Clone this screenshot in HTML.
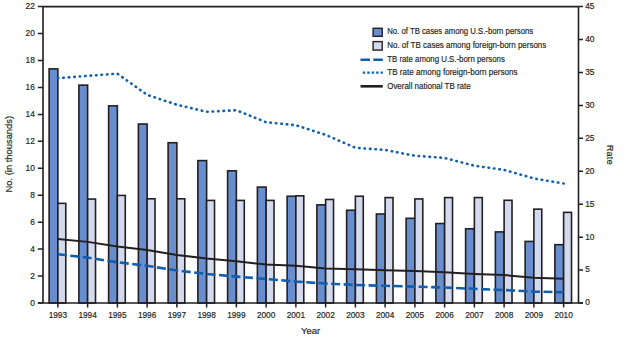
<!DOCTYPE html>
<html><head><meta charset="utf-8"><style>
html,body{margin:0;padding:0;background:#fff;}
body{width:626px;height:344px;overflow:hidden;}
svg{display:block;}
.t{font-family:"Liberation Sans",sans-serif;font-size:8.3px;fill:#231f20;stroke:#231f20;stroke-width:0.18px;}
</style></head><body>
<svg width="626" height="344" viewBox="0 0 626 344">
<rect x="49.12" y="68.87" width="8.75" height="234.13" fill="#688ed0" stroke="#231f20" stroke-width="1.6"/>
<rect x="57.88" y="203.37" width="7.90" height="99.63" fill="#d3daee" stroke="#231f20" stroke-width="1.6"/>
<rect x="78.88" y="85.15" width="8.75" height="217.85" fill="#688ed0" stroke="#231f20" stroke-width="1.6"/>
<rect x="87.62" y="199.07" width="7.90" height="103.93" fill="#d3daee" stroke="#231f20" stroke-width="1.6"/>
<rect x="108.62" y="105.86" width="8.75" height="197.14" fill="#688ed0" stroke="#231f20" stroke-width="1.6"/>
<rect x="117.38" y="195.44" width="7.90" height="107.56" fill="#d3daee" stroke="#231f20" stroke-width="1.6"/>
<rect x="138.38" y="124.02" width="8.75" height="178.98" fill="#688ed0" stroke="#231f20" stroke-width="1.6"/>
<rect x="147.12" y="198.80" width="7.90" height="104.20" fill="#d3daee" stroke="#231f20" stroke-width="1.6"/>
<rect x="168.12" y="142.71" width="8.75" height="160.29" fill="#688ed0" stroke="#231f20" stroke-width="1.6"/>
<rect x="176.88" y="198.80" width="7.90" height="104.20" fill="#d3daee" stroke="#231f20" stroke-width="1.6"/>
<rect x="197.88" y="160.60" width="8.75" height="142.40" fill="#688ed0" stroke="#231f20" stroke-width="1.6"/>
<rect x="206.62" y="200.41" width="7.90" height="102.59" fill="#d3daee" stroke="#231f20" stroke-width="1.6"/>
<rect x="227.62" y="170.82" width="8.75" height="132.18" fill="#688ed0" stroke="#231f20" stroke-width="1.6"/>
<rect x="236.38" y="200.41" width="7.90" height="102.59" fill="#d3daee" stroke="#231f20" stroke-width="1.6"/>
<rect x="257.38" y="187.10" width="8.75" height="115.90" fill="#688ed0" stroke="#231f20" stroke-width="1.6"/>
<rect x="266.12" y="200.41" width="7.90" height="102.59" fill="#d3daee" stroke="#231f20" stroke-width="1.6"/>
<rect x="287.12" y="196.25" width="8.75" height="106.75" fill="#688ed0" stroke="#231f20" stroke-width="1.6"/>
<rect x="295.88" y="195.84" width="7.90" height="107.16" fill="#d3daee" stroke="#231f20" stroke-width="1.6"/>
<rect x="316.88" y="204.85" width="8.75" height="98.15" fill="#688ed0" stroke="#231f20" stroke-width="1.6"/>
<rect x="325.62" y="199.47" width="7.90" height="103.53" fill="#d3daee" stroke="#231f20" stroke-width="1.6"/>
<rect x="346.62" y="210.23" width="8.75" height="92.77" fill="#688ed0" stroke="#231f20" stroke-width="1.6"/>
<rect x="355.38" y="196.25" width="7.90" height="106.75" fill="#d3daee" stroke="#231f20" stroke-width="1.6"/>
<rect x="376.38" y="214.00" width="8.75" height="89.00" fill="#688ed0" stroke="#231f20" stroke-width="1.6"/>
<rect x="385.12" y="197.59" width="7.90" height="105.41" fill="#d3daee" stroke="#231f20" stroke-width="1.6"/>
<rect x="406.12" y="218.30" width="8.75" height="84.70" fill="#688ed0" stroke="#231f20" stroke-width="1.6"/>
<rect x="414.88" y="198.94" width="7.90" height="104.06" fill="#d3daee" stroke="#231f20" stroke-width="1.6"/>
<rect x="435.88" y="223.55" width="8.75" height="79.45" fill="#688ed0" stroke="#231f20" stroke-width="1.6"/>
<rect x="444.62" y="197.59" width="7.90" height="105.41" fill="#d3daee" stroke="#231f20" stroke-width="1.6"/>
<rect x="465.62" y="228.79" width="8.75" height="74.21" fill="#688ed0" stroke="#231f20" stroke-width="1.6"/>
<rect x="474.38" y="197.59" width="7.90" height="105.41" fill="#d3daee" stroke="#231f20" stroke-width="1.6"/>
<rect x="495.38" y="231.89" width="8.75" height="71.11" fill="#688ed0" stroke="#231f20" stroke-width="1.6"/>
<rect x="504.12" y="200.28" width="7.90" height="102.72" fill="#d3daee" stroke="#231f20" stroke-width="1.6"/>
<rect x="525.12" y="241.44" width="8.75" height="61.56" fill="#688ed0" stroke="#231f20" stroke-width="1.6"/>
<rect x="533.88" y="209.16" width="7.90" height="93.84" fill="#d3daee" stroke="#231f20" stroke-width="1.6"/>
<rect x="554.88" y="244.67" width="8.75" height="58.33" fill="#688ed0" stroke="#231f20" stroke-width="1.6"/>
<rect x="563.62" y="212.38" width="7.90" height="90.62" fill="#d3daee" stroke="#231f20" stroke-width="1.6"/>
<polyline points="57.88,238.98 87.62,241.87 117.38,246.61 147.12,250.09 176.88,254.89 206.62,258.58 236.38,261.27 266.12,264.49 295.88,265.68 325.62,268.57 355.38,269.16 385.12,270.28 414.88,271.00 444.62,272.19 474.38,273.96 504.12,275.08 533.88,277.71 563.62,278.63" fill="none" stroke="#231f20" stroke-width="2.0"/>
<polyline points="57.88,254.30 87.62,257.59 117.38,262.26 147.12,265.81 176.88,270.48 206.62,273.96 236.38,276.59 266.12,278.96 295.88,281.59 325.62,283.50 355.38,285.01 385.12,285.80 414.88,286.59 444.62,287.57 474.38,288.82 504.12,290.01 533.88,291.58 563.62,292.31" fill="none" stroke="#0f5fae" stroke-width="2.6" stroke-dasharray="9 3.5"/>
<polyline points="57.88,78.27 87.62,75.84 117.38,73.67 147.12,94.84 176.88,104.71 206.62,111.81 236.38,110.23 266.12,122.20 295.88,125.22 325.62,134.82 355.38,147.78 385.12,149.95 414.88,155.73 444.62,157.97 474.38,165.73 504.12,169.94 533.88,178.42 563.62,183.55" fill="none" stroke="#0f5fae" stroke-width="2.6" stroke-linecap="round" stroke-dasharray="0.5 4.97"/>
<path d="M43.00,6.60 H578.50 M43.00,6.60 V303.00 M578.50,6.60 V303.00 M38.00,303.00 H583.00" stroke="#231f20" stroke-width="1.6" fill="none"/>
<text x="34.8" y="305.60" text-anchor="end" class="t">0</text>
<text x="34.8" y="278.65" text-anchor="end" class="t">2</text>
<text x="34.8" y="251.71" text-anchor="end" class="t">4</text>
<text x="34.8" y="224.76" text-anchor="end" class="t">6</text>
<text x="34.8" y="197.82" text-anchor="end" class="t">8</text>
<text x="34.8" y="170.87" text-anchor="end" class="t">10</text>
<text x="34.8" y="143.93" text-anchor="end" class="t">12</text>
<text x="34.8" y="116.98" text-anchor="end" class="t">14</text>
<text x="34.8" y="90.04" text-anchor="end" class="t">16</text>
<text x="34.8" y="63.09" text-anchor="end" class="t">18</text>
<text x="34.8" y="36.15" text-anchor="end" class="t">20</text>
<text x="34.8" y="9.20" text-anchor="end" class="t">22</text>
<text x="585.2" y="305.40" class="t">0</text>
<text x="585.2" y="272.47" class="t">5</text>
<text x="585.2" y="239.53" class="t">10</text>
<text x="585.2" y="206.60" class="t">15</text>
<text x="585.2" y="173.67" class="t">20</text>
<text x="585.2" y="140.73" class="t">25</text>
<text x="585.2" y="107.80" class="t">30</text>
<text x="585.2" y="74.87" class="t">35</text>
<text x="585.2" y="41.93" class="t">40</text>
<text x="585.2" y="9.00" class="t">45</text>
<text x="57.88" y="317.9" text-anchor="middle" class="t">1993</text>
<text x="87.62" y="317.9" text-anchor="middle" class="t">1994</text>
<text x="117.38" y="317.9" text-anchor="middle" class="t">1995</text>
<text x="147.12" y="317.9" text-anchor="middle" class="t">1996</text>
<text x="176.88" y="317.9" text-anchor="middle" class="t">1997</text>
<text x="206.62" y="317.9" text-anchor="middle" class="t">1998</text>
<text x="236.38" y="317.9" text-anchor="middle" class="t">1999</text>
<text x="266.12" y="317.9" text-anchor="middle" class="t">2000</text>
<text x="295.88" y="317.9" text-anchor="middle" class="t">2001</text>
<text x="325.62" y="317.9" text-anchor="middle" class="t">2002</text>
<text x="355.38" y="317.9" text-anchor="middle" class="t">2003</text>
<text x="385.12" y="317.9" text-anchor="middle" class="t">2004</text>
<text x="414.88" y="317.9" text-anchor="middle" class="t">2005</text>
<text x="444.62" y="317.9" text-anchor="middle" class="t">2006</text>
<text x="474.38" y="317.9" text-anchor="middle" class="t">2007</text>
<text x="504.12" y="317.9" text-anchor="middle" class="t">2008</text>
<text x="533.88" y="317.9" text-anchor="middle" class="t">2009</text>
<text x="563.62" y="317.9" text-anchor="middle" class="t">2010</text>
<path d="M37.80,303.00 H43.00 M37.80,276.05 H43.00 M37.80,249.11 H43.00 M37.80,222.16 H43.00 M37.80,195.22 H43.00 M37.80,168.27 H43.00 M37.80,141.33 H43.00 M37.80,114.38 H43.00 M37.80,87.44 H43.00 M37.80,60.49 H43.00 M37.80,33.55 H43.00 M37.80,6.60 H43.00 M578.50,303.00 H583.00 M578.50,270.07 H583.00 M578.50,237.13 H583.00 M578.50,204.20 H583.00 M578.50,171.27 H583.00 M578.50,138.33 H583.00 M578.50,105.40 H583.00 M578.50,72.47 H583.00 M578.50,39.53 H583.00 M578.50,6.60 H583.00 M57.88,303.00 V307.60 M87.62,303.00 V307.60 M117.38,303.00 V307.60 M147.12,303.00 V307.60 M176.88,303.00 V307.60 M206.62,303.00 V307.60 M236.38,303.00 V307.60 M266.12,303.00 V307.60 M295.88,303.00 V307.60 M325.62,303.00 V307.60 M355.38,303.00 V307.60 M385.12,303.00 V307.60 M414.88,303.00 V307.60 M444.62,303.00 V307.60 M474.38,303.00 V307.60 M504.12,303.00 V307.60 M533.88,303.00 V307.60 M563.62,303.00 V307.60" stroke="#231f20" stroke-width="1.5" fill="none"/>
<text x="310.6" y="334.3" text-anchor="middle" class="t" style="font-size:9.5px">Year</text>
<text transform="translate(11.6,154.2) rotate(-90)" text-anchor="middle" class="t" style="font-size:9.4px">No. (in thousands)</text>
<text transform="translate(606.6,154.7) rotate(90)" text-anchor="middle" class="t" style="font-size:9.4px">Rate</text>
<rect x="373.1" y="28.3" width="9.1" height="8" fill="#688ed0" stroke="#231f20" stroke-width="1.4"/>
<rect x="373.1" y="41.6" width="9.1" height="8.5" fill="#d3daee" stroke="#231f20" stroke-width="1.4"/>
<path d="M360.5,59.8 H382.8" stroke="#0f5fae" stroke-width="2.5" stroke-dasharray="9.5 3.3"/>
<path d="M362.8,72.6 H382.8" stroke="#0f5fae" stroke-width="2.4" stroke-dasharray="2.4 2.05"/>
<path d="M360.5,86.3 H382.8" stroke="#231f20" stroke-width="2.6"/>
<text x="387.2" y="33.9" class="t" textLength="146.0" lengthAdjust="spacingAndGlyphs" style="font-size:9.4px">No. of TB cases among U.S.-born persons</text>
<text x="387.2" y="48.0" class="t" textLength="159.1" lengthAdjust="spacingAndGlyphs" style="font-size:9.4px">No. of TB cases among foreign-born persons</text>
<text x="387.2" y="61.6" class="t" textLength="117.7" lengthAdjust="spacingAndGlyphs" style="font-size:9.4px">TB rate among U.S.-born persons</text>
<text x="387.2" y="74.9" class="t" textLength="130.3" lengthAdjust="spacingAndGlyphs" style="font-size:9.4px">TB rate among foreign-born persons</text>
<text x="387.2" y="88.6" class="t" textLength="83.5" lengthAdjust="spacingAndGlyphs" style="font-size:9.4px">Overall national TB rate</text>
</svg>
</body></html>
